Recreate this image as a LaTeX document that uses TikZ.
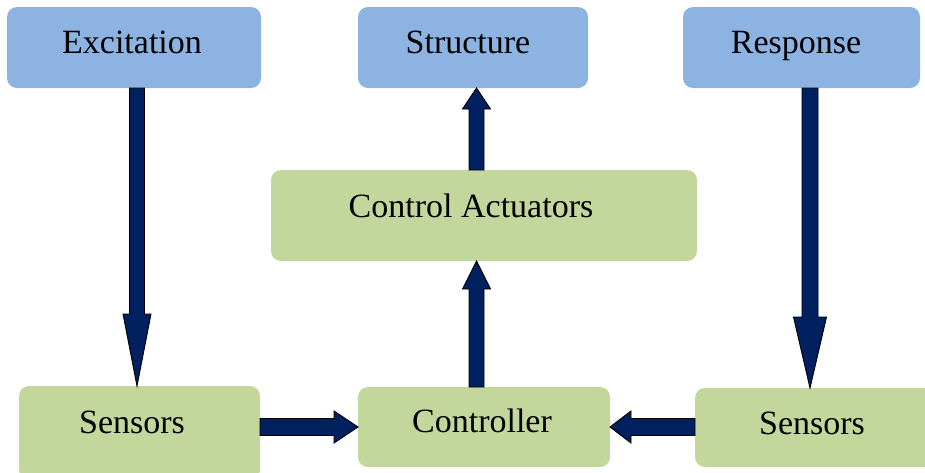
\documentclass[tikz,border=0pt]{standalone}
\usepackage{fontspec}
\setmainfont{Liberation Serif}
\usetikzlibrary{calc}
\definecolor{boxblue}{RGB}{141,179,226}
\definecolor{boxgreen}{RGB}{195,214,155}
\definecolor{navy}{RGB}{0,32,96}
\tikzset{
  bluebox/.style={fill=boxblue, draw=none, rounded corners=10pt, inner sep=0pt, outer sep=0pt},
  greenbox/.style={fill=boxgreen, draw=none, rounded corners=10pt, inner sep=0pt, outer sep=0pt},
  lbl/.style={font=\fontsize{34}{40}\selectfont, inner sep=0pt, anchor=base},
  blk/.style={fill=navy, draw=black, line width=0.9pt, line join=miter}
}
% vertical block arrow: start, end (only y used), half shaft, half head, signed head length
\newcommand\vblk[5]{\draw[blk] let \p1=(#1), \p2=(#2) in
  ({\x1-#3pt},\y1) -- ({\x1-#3pt},{\y2+(#5pt)}) -- ({\x1-#4pt},{\y2+(#5pt)}) -- (\x1,\y2)
  -- ({\x1+#4pt},{\y2+(#5pt)}) -- ({\x1+#3pt},{\y2+(#5pt)}) -- ({\x1+#3pt},\y1) -- cycle;}
% horizontal block arrow: start, end (only x used), half shaft, half head, signed head length
\newcommand\hblk[5]{\draw[blk] let \p1=(#1), \p2=(#2) in
  (\x1,{\y1-#3pt}) -- ({\x2+(#5pt)},{\y1-#3pt}) -- ({\x2+(#5pt)},{\y1-#4pt}) -- (\x2,\y1)
  -- ({\x2+(#5pt)},{\y1+#4pt}) -- ({\x2+(#5pt)},{\y1+#3pt}) -- (\x1,{\y1+#3pt}) -- cycle;}
\begin{document}
\begin{tikzpicture}[x=1pt,y=-1pt]
\useasboundingbox (0,0) rectangle (925,472);
\clip (0,0) rectangle (925,472);
\fill[white] (0,0) rectangle (925,472);

% boxes
\node (exc) [bluebox, minimum width=254pt, minimum height=81pt] at (134,47.5) {};
\node (str) [bluebox, minimum width=230pt, minimum height=81pt] at (473,47.5) {};
\node (res) [bluebox, minimum width=237pt, minimum height=81pt] at (801.5,47.5) {};
\node (act) [greenbox, minimum width=426pt, minimum height=91pt] at (484,215.5) {};
\node (sl)  [greenbox, minimum width=241pt, minimum height=94pt] at (139.5,433) {};
\node (ctl) [greenbox, minimum width=252pt, minimum height=80pt] at (484,427) {};
\node (sr)  [greenbox, minimum width=245pt, minimum height=79pt] at (817.5,427.5) {};

% labels
\node (excT) [lbl] at (132,53) {Excitation};
\node (strT) [lbl] at (468,53) {Structure};
\node (resT) [lbl] at (796,53) {Response};
\node (actT) [lbl] at (471,217) {Control Actuators};
\node (slT)  [lbl] at (132,433) {Sensors};
\node (ctlT) [lbl] at (482,432) {Controller};
\node (srT)  [lbl] at (812,434) {Sensors};

% block arrows
\vblk{$(exc.south)+(3,0)$}{sl.north}{7.5}{14}{72}
\vblk{$(res.south)+(8.5,0)$}{sr.north}{8}{16.5}{71}
\vblk{$(act.north)+(-7.5,0)$}{str.south}{7.5}{14}{-21}
\vblk{$(ctl.north)+(-7.5,0)$}{act.south}{7.5}{14}{-28}
\hblk{$(sl.east)+(0,-6)$}{ctl.west}{8.5}{16}{-24}
\hblk{$(sr.west)+(0,-0.5)$}{ctl.east}{8.5}{16}{21}
\end{tikzpicture}
\end{document}
